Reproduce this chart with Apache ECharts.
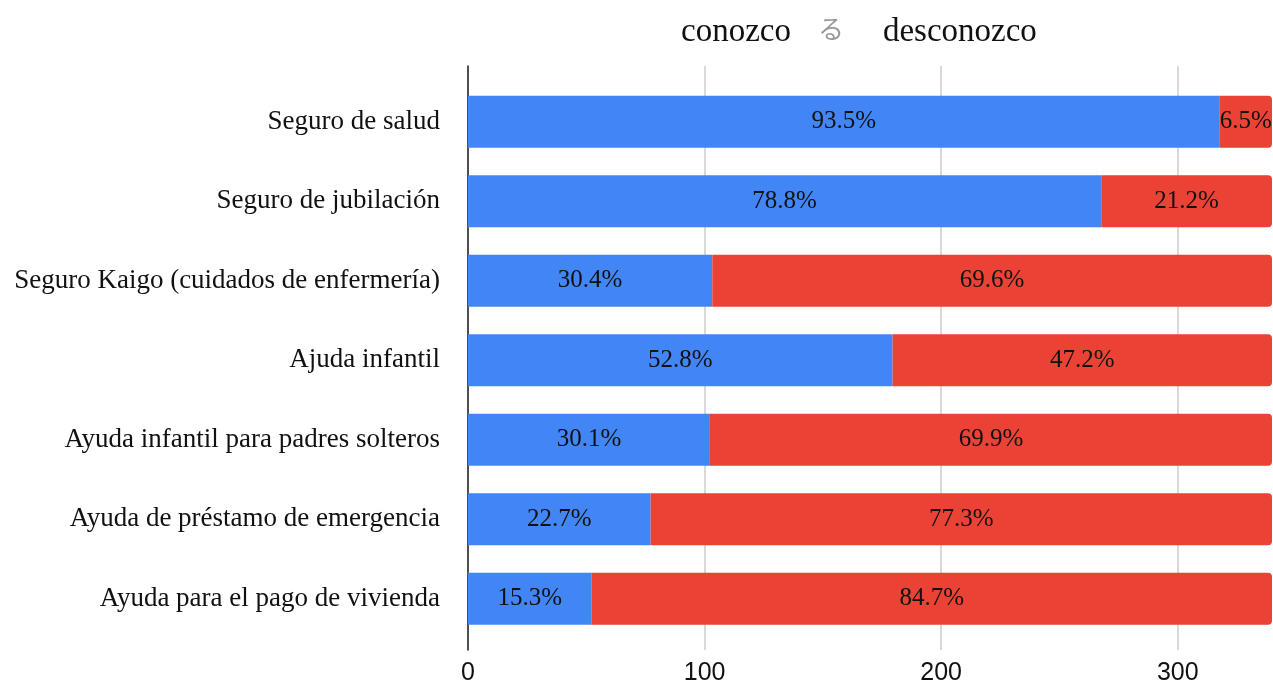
<!DOCTYPE html>
<html>
<head>
<meta charset="utf-8">
<script src="https://cdn.jsdelivr.net/npm/echarts@6/dist/echarts.min.js"></script>
<style>
  html, body { margin: 0; padding: 0; background: #fff; }
  #chart { width: 1273px; height: 686px; }
</style>
</head>
<body>
<div id="chart"></div>
<script>
// categories, top to bottom
const categories = [
  'Seguro de salud',
  'Seguro de jubilación',
  'Seguro Kaigo (cuidados de enfermería)',
  'Ajuda infantil',
  'Ayuda infantil para padres solteros',
  'Ayuda de préstamo de emergencia',
  'Ayuda para el pago de vivienda'
]
// counts of respondents (total 339 each)
const conozco = [317, 267, 103, 179, 102, 77, 52]
const desconozco = [22, 72, 236, 160, 237, 262, 287]
const xTicks = [0, 100, 200, 300]

const serif = '"Liberation Serif", "Noto Serif", serif'
const chart = echarts.init(document.getElementById('chart'))

const pct = (v, i) => (v / (conozco[i] + desconozco[i]) * 100).toFixed(1) + '%'

const option = {
  animation: false,
  legend: {
    data: ['conozco', 'desconozco'],
    left: 671,
    top: 11,
    itemWidth: 0,
    itemHeight: 0,
    itemGap: 87,
    textStyle: { fontFamily: serif, fontSize: 33, color: '#111' }
  },
  graphic: [{
    type: 'text',
    left: 818,
    top: 16,
    style: { text: 'る', font: '26px "Noto Sans CJK JP"', fill: '#999' }
  }],
  grid: [
    { left: 468, right: 1, top: 66, bottom: 31 },
    { left: 468, right: 1, top: 82, bottom: 47.5 }
  ],
  xAxis: [
    {
      gridIndex: 0, type: 'value', min: 0, max: 339, interval: 100,
      axisLine: { show: false }, axisTick: { show: false },
      splitLine: { showMaxLine: false, lineStyle: { color: '#ccc', width: 1.5 } },
      axisLabel: {
        margin: 11, fontSize: 25, color: '#111',
        fontFamily: '"Liberation Sans", Arial, sans-serif',
        formatter: v => xTicks.includes(v) ? String(v) : ''
      }
    },
    { gridIndex: 1, type: 'value', min: 0, max: 339, show: false }
  ],
  yAxis: [
    {
      gridIndex: 0, type: 'value', min: 0, max: 1,
      axisLine: { show: true, lineStyle: { color: '#222', width: 1.5 } },
      axisTick: { show: false }, axisLabel: { show: false }, splitLine: { show: false }
    },
    {
      gridIndex: 1, type: 'category', data: categories, inverse: true,
      axisLine: { show: false }, axisTick: { show: false },
      axisLabel: { margin: 28, fontFamily: serif, fontSize: 27, color: '#111' }
    }
  ],
  series: [
    {
      name: 'conozco', type: 'bar', stack: 'total', xAxisIndex: 1, yAxisIndex: 1,
      data: conozco, barWidth: 52,
      itemStyle: { color: '#4285f4' },
      label: {
        show: true, position: 'inside', fontFamily: serif, fontSize: 25, color: '#111',
        formatter: p => pct(p.value, p.dataIndex)
      }
    },
    {
      name: 'desconozco', type: 'bar', stack: 'total', xAxisIndex: 1, yAxisIndex: 1,
      data: desconozco, barWidth: 52,
      itemStyle: { color: '#ea4335', borderRadius: [0, 4, 4, 0] },
      label: {
        show: true, position: 'inside', fontFamily: serif, fontSize: 25, color: '#111',
        formatter: p => pct(p.value, p.dataIndex)
      }
    }
  ]
}
chart.setOption(option)
</script>
</body>
</html>
